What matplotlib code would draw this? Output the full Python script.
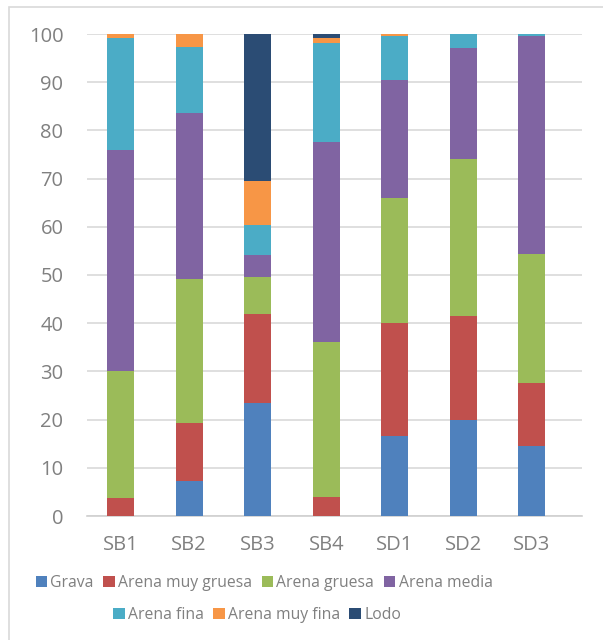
import numpy as np
import matplotlib
matplotlib.use('Agg')
import matplotlib.pyplot as plt
from matplotlib.patches import Rectangle, Patch

# grain-size fractions (%) per sample
samples = ['SB1', 'SB2', 'SB3', 'SB4', 'SD1', 'SD2', 'SD3']
grava = [0.0, 7.3, 23.4, 0.0, 16.6, 19.9, 14.6]
arena_muy_gruesa = [3.7, 12.0, 18.5, 4.0, 23.5, 21.5, 12.9]
arena_gruesa = [26.3, 29.9, 7.7, 32.0, 25.8, 32.6, 26.8]
arena_media = [45.9, 34.4, 4.5, 41.5, 24.6, 23.0, 45.3]
arena_fina = [23.2, 13.6, 6.3, 20.7, 9.1, 3.0, 0.4]
arena_muy_fina = [0.8, 2.8, 9.2, 0.9, 0.4, 0.0, 0.0]
lodo = [0.0, 0.0, 30.4, 0.9, 0.0, 0.0, 0.0]

names = ['Grava', 'Arena muy gruesa', 'Arena gruesa', 'Arena media',
         'Arena fina', 'Arena muy fina', 'Lodo']
series = [grava, arena_muy_gruesa, arena_gruesa, arena_media,
          arena_fina, arena_muy_fina, lodo]
colors = ['#4F81BD', '#C0504D', '#9BBB59', '#8064A2',
          '#4BACC6', '#F79646', '#2B4C74']

plt.rcParams['font.family'] = ['Open Sans', 'DejaVu Sans']
txt = '#808080'

fig = plt.figure(figsize=(6.03, 6.40), dpi=100)
ax = fig.add_axes([87 / 603, 1 - 516 / 640, (582 - 87) / 603, (516 - 34) / 640])

# outer chart frame
fig.patches.append(Rectangle((9 / 603, -0.1), 1.2, 1 - 7 / 640 + 0.1,
                             transform=fig.transFigure, fill=False,
                             edgecolor='#d9d9d9', linewidth=1.2))

x = np.arange(len(samples))
bottom = np.zeros(len(samples))
for vals, c, n in zip(series, colors, names):
    ax.bar(x, vals, width=0.395, bottom=bottom, color=c, label=n, zorder=3)
    bottom += np.array(vals)

ax.set_ylim(0, 100)
ax.set_xlim(-0.49, 6.73)
ax.set_yticks(range(0, 101, 10))
ax.set_xticks(x)
ax.set_xticklabels(samples)
ax.yaxis.grid(True, color='#d9d9d9', linewidth=1.2, zorder=0)
for s in ['top', 'right', 'left']:
    ax.spines[s].set_visible(False)
ax.spines['bottom'].set_color('#d0d0d0')
ax.spines['bottom'].set_linewidth(1.2)
ax.tick_params(axis='y', length=0, pad=17, labelsize=14.5, labelcolor=txt)
ax.tick_params(axis='x', length=0, pad=14, labelsize=14.5, labelcolor=txt)

handles = [Patch(facecolor=c, label=n) for c, n in zip(colors, names)]
common = dict(frameon=False, handlelength=0.75, handleheight=0.75,
              handletextpad=0.2, columnspacing=0.6, fontsize=11.3,
              labelcolor=txt, borderaxespad=0, borderpad=0)
fig.legend(handles=handles[:4], ncol=4, loc='center',
           bbox_to_anchor=(264 / 603, 1 - 583 / 640), **common)
fig.legend(handles=handles[4:], ncol=3, loc='center',
           bbox_to_anchor=(257 / 603, 1 - 615 / 640), **common)

fig.savefig('out.png', dpi=100)
